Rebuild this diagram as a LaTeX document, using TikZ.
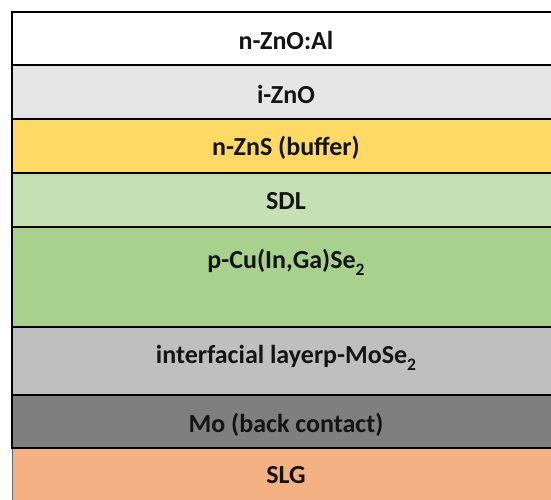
\documentclass[tikz,border=0pt]{standalone}
\usepackage{fontspec}
\setmainfont{Carlito}
\begin{document}
\begin{tikzpicture}[x=1pt,y=-1pt,
  layer/.style={draw=black,line width=1.6pt},
  lbl/.style={font=\bfseries\fontsize{26}{29}\selectfont,text=black!92,inner sep=0pt,anchor=base}]
\definecolor{cIZnO}{HTML}{E6E6E6}
\definecolor{cZnS}{HTML}{FFD966}
\definecolor{cSDL}{HTML}{C5E0B4}
\definecolor{cCIGS}{HTML}{A9D18E}
\definecolor{cIF}{HTML}{BFBFBF}
\definecolor{cMo}{HTML}{7F7F7F}
\definecolor{cSLG}{HTML}{F4B183}
\newcommand{\subtwo}{\raisebox{-0.28em}{\fontsize{17.5}{17.5}\selectfont 2}}
\useasboundingbox (0,0) rectangle (551,499);
\begin{scope}
\clip (0,0) rectangle (551,499);
% substrate first, then the stack on top of it
\fill[cSLG] (12,448) rectangle (570,505);
\draw[black!60,line width=0.8pt] (12,448) -- (12,505);
\draw[layer,fill=cMo] (12,395) rectangle (570,448);
\draw[layer,fill=cIF] (12,327) rectangle (570,395);
\draw[layer,fill=cCIGS] (12,227) rectangle (570,327);
\draw[layer,fill=cSDL] (12,173) rectangle (570,227);
\draw[layer,fill=cZnS] (12,119) rectangle (570,173);
\draw[layer,fill=cIZnO] (12,65) rectangle (570,119);
\draw[layer,fill=white] (12,12) rectangle (570,65);
\end{scope}
\node[lbl] (azo) at (286,49) {n-ZnO:Al};
\node[lbl] (izno) at (286,103) {i-ZnO};
\node[lbl] (zns) at (286,155) {n-ZnS (buffer)};
\node[lbl] (sdl) at (286,209) {SDL};
\node[lbl] (cigs) at (286,268) {p-Cu(In,Ga)Se\subtwo};
\node[lbl] (if) at (286,363) {interfacial layerp-MoSe\subtwo};
\node[lbl] (mo) at (286,432) {Mo (back contact)};
\node[lbl] (slg) at (286,483) {SLG};
\end{tikzpicture}
\end{document}
